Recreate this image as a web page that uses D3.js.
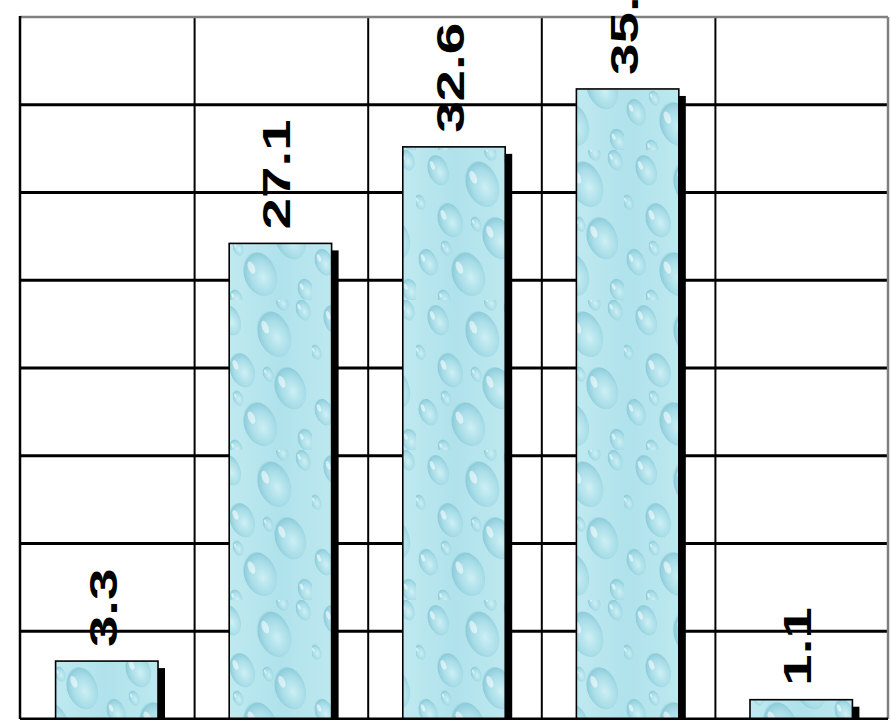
<!DOCTYPE html>
<html>
<head>
<meta charset="utf-8">
<script src="https://cdn.jsdelivr.net/npm/d3@7"></script>
<style>
  html, body { margin: 0; padding: 0; background: #fff; }
  svg { display: block; }
</style>
</head>
<body>
<svg id="chart" width="892" height="720"></svg>
<script>
// ---- data ----
const categories = ["A", "B", "C", "D", "E"];
const values = [3.3, 27.1, 32.6, 35.9, 1.1];
const valueLabels = ["3.3", "27.1", "32.6", "35.9", "1.1"];
const yTicks = [0, 5, 10, 15, 20, 25, 30, 35, 40];

const plot = { left: 20, right: 888, top: 17, bottom: 719 };

const svg = d3.select("#chart");
const defs = svg.append("defs");

// base colour of each bar
const bg = defs.append("linearGradient").attr("id", "bgGrad")
  .attr("x1", 0).attr("y1", 0).attr("x2", 1).attr("y2", 0);
bg.append("stop").attr("offset", 0).attr("stop-color", "#bfe9f0");
bg.append("stop").attr("offset", 0.5).attr("stop-color", "#b0e2eb");
bg.append("stop").attr("offset", 1).attr("stop-color", "#bde8ef");

// water-drop texture overlay (transparent background)
const drop = defs.append("radialGradient").attr("id", "dropGrad")
  .attr("cx", 0.55).attr("cy", 0.6).attr("r", 0.6);
drop.append("stop").attr("offset", 0).attr("stop-color", "#d3f2f6").attr("stop-opacity", 0.8);
drop.append("stop").attr("offset", 0.6).attr("stop-color", "#a4dbe6").attr("stop-opacity", 0.7);
drop.append("stop").attr("offset", 0.92).attr("stop-color", "#84c6d6").attr("stop-opacity", 0.8);
drop.append("stop").attr("offset", 1).attr("stop-color", "#a6dbe6").attr("stop-opacity", 0.3);

const pat = defs.append("pattern").attr("id", "water")
  .attr("patternUnits", "userSpaceOnUse")
  .attr("width", 104).attr("height", 150);
const drops = [
  [22, 20, 10, 16], [66, 34, 16, 24], [95, 10, 7, 11], [34, 70, 12, 18],
  [82, 88, 15, 22], [12, 112, 9, 14], [52, 124, 16, 23], [98, 140, 8, 12],
  [4, 52, 5, 8], [74, 2, 6, 9], [28, 148, 6, 9], [30, 98, 5, 8], [60, 74, 5, 8]
];
drops.forEach(([cx, cy, rx, ry]) => {
  const g = pat.append("g").attr("transform", `rotate(-22 ${cx} ${cy})`);
  g.append("ellipse").attr("cx", cx).attr("cy", cy).attr("rx", rx).attr("ry", ry)
    .attr("fill", "url(#dropGrad)");
  g.append("ellipse").attr("cx", cx - rx * 0.35).attr("cy", cy - ry * 0.4)
    .attr("rx", rx * 0.2).attr("ry", ry * 0.28)
    .attr("fill", "#ffffff").attr("opacity", 0.55);
});

const x = d3.scaleBand().domain(categories).range([plot.left, plot.right]).paddingInner(0).paddingOuter(0);
const y = d3.scaleLinear().domain([0, 40]).range([plot.bottom, plot.top]);
const barW = x.bandwidth() * 0.59;

// horizontal gridlines
svg.append("g").selectAll("line").data(yTicks.filter(t => t > 0 && t < 40)).join("line")
  .attr("x1", plot.left).attr("x2", plot.right)
  .attr("y1", d => y(d)).attr("y2", d => y(d))
  .attr("stroke", "#000").attr("stroke-width", 3);

// vertical gridlines at category boundaries
svg.append("g").selectAll("line").data(categories.slice(1)).join("line")
  .attr("x1", d => x(d) + 1).attr("x2", d => x(d) + 1)
  .attr("y1", plot.top).attr("y2", plot.bottom)
  .attr("stroke", "#000").attr("stroke-width", 2);

// top & right border (grey)
svg.append("line").attr("x1", plot.left).attr("x2", plot.right)
  .attr("y1", y(40)).attr("y2", y(40)).attr("stroke", "#808080").attr("stroke-width", 2.5);
svg.append("line").attr("x1", plot.right).attr("x2", plot.right)
  .attr("y1", y(40)).attr("y2", plot.bottom).attr("stroke", "#808080").attr("stroke-width", 2.5);

// bars
const bars = svg.append("g");
const bx = (d, i) => x(categories[i]) + (x.bandwidth() - barW) / 2;
bars.selectAll("rect.shadow").data(values).join("rect").attr("class", "shadow")
  .attr("x", (d, i) => bx(d, i) + 7).attr("y", d => y(d) + 7)
  .attr("width", barW).attr("height", d => Math.max(0, y(0) - y(d)))
  .attr("fill", "#000");
bars.selectAll("rect.base").data(values).join("rect").attr("class", "base")
  .attr("x", (d, i) => bx(d, i)).attr("y", d => y(d))
  .attr("width", barW).attr("height", d => y(0) - y(d) + 2)
  .attr("fill", "url(#bgGrad)");
bars.selectAll("rect.bar").data(values).join("rect").attr("class", "bar")
  .attr("x", (d, i) => bx(d, i)).attr("y", d => y(d))
  .attr("width", barW).attr("height", d => y(0) - y(d) + 2)
  .attr("fill", "url(#water)").attr("stroke", "#000").attr("stroke-width", 1.6);

// axes lines (left & bottom)
svg.append("line").attr("x1", plot.left).attr("x2", plot.left)
  .attr("y1", plot.top - 1).attr("y2", plot.bottom).attr("stroke", "#000").attr("stroke-width", 2.5);
svg.append("line").attr("x1", plot.left).attr("x2", plot.right)
  .attr("y1", plot.bottom).attr("y2", plot.bottom).attr("stroke", "#000").attr("stroke-width", 3);

// value labels (rotated)
svg.append("g").selectAll("text").data(values).join("text")
  .attr("transform", (d, i) =>
    `translate(${x(categories[i]) + x.bandwidth() / 2 + 10},${y(d) - 14}) rotate(-90) scale(1.45,1)`)
  .attr("font-family", "'Liberation Sans', Arial, sans-serif")
  .attr("font-weight", "bold")
  .attr("font-size", 39)
  .attr("fill", "#000")
  .text((d, i) => valueLabels[i]);
</script>
</body>
</html>
